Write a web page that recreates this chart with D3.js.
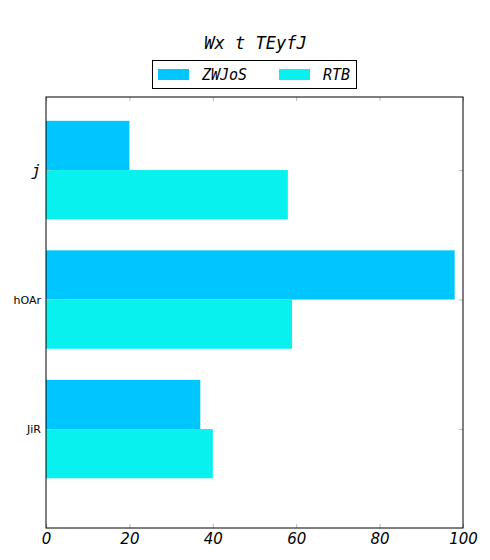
<!DOCTYPE html>
<html><head><meta charset="utf-8">
<script src="https://cdn.jsdelivr.net/npm/d3@7"></script>
<style>body{margin:0;background:#fff}</style>
</head><body>
<script>
const categories = ["JiR", "hOAr", "j"];
const seriesNames = ["ZWJoS", "RTB"];
const zwjos = [37, 98, 20];
const rtb = [40, 59, 58];
const xTicks = [0, 20, 40, 60, 80, 100];
const colors = ["#00c6ff", "#09f1ee"];

const W = 490, H = 560;
const svg = d3.select("body").append("svg").attr("width", W).attr("height", H);
const L = 46, R = 463, T = 97, B = 528;
const x = d3.scaleLinear().domain([0, 100]).range([L, R]);
const y = d3.scaleLinear().domain([-0.764, 2.564]).range([B, T]);
const bh = 0.38;
const series = [zwjos, rtb];

series.forEach((vals, si) => {
  svg.append("g").selectAll("rect").data(vals).join("rect")
    .attr("x", x(0))
    .attr("y", (d, i) => si === 0 ? y(i + bh) : y(i))
    .attr("width", d => x(d) - x(0))
    .attr("height", y(0) - y(bh))
    .attr("fill", colors[si]);
});

// ticks (inward, gray, both sides)
const tickCol = "#bbbbbb";
const xAxisB = d3.axisBottom(x).tickValues(xTicks).tickSize(-4).tickFormat(d => d);
const gxb = svg.append("g").attr("transform", `translate(0,${B})`).call(xAxisB);
gxb.select(".domain").remove();
gxb.selectAll(".tick line").attr("stroke", tickCol);
gxb.selectAll(".tick text").attr("dy", 0).attr("y", 16)
  .style("font-family", "DejaVu Sans").style("font-style", "italic").style("font-size", "15px").attr("fill", "#000");
const gxt = svg.append("g").attr("transform", `translate(0,${T})`).call(d3.axisTop(x).tickValues(xTicks).tickSize(-4).tickFormat(""));
gxt.select(".domain").remove();
gxt.selectAll(".tick line").attr("stroke", tickCol);

const yAxisL = d3.axisLeft(y).tickValues([0, 1, 2]).tickSize(-4).tickFormat(i => categories[i]);
const gyl = svg.append("g").attr("transform", `translate(${L},0)`).call(yAxisL);
gyl.select(".domain").remove();
gyl.selectAll(".tick line").attr("stroke", tickCol);
gyl.selectAll(".tick text").attr("x", -5).attr("fill", "#000")
  .style("font-family", "DejaVu Sans").style("font-size", "11px");
gyl.selectAll(".tick text").filter(i => i === 2)
  .style("font-family", "DejaVu Sans Mono").style("font-style", "italic").style("font-size", "16px");
const gyr = svg.append("g").attr("transform", `translate(${R},0)`).call(d3.axisRight(y).tickValues([0, 1, 2]).tickSize(-4).tickFormat(""));
gyr.select(".domain").remove();
gyr.selectAll(".tick line").attr("stroke", tickCol);

svg.append("rect").attr("x", L).attr("y", T).attr("width", R - L).attr("height", B - T)
  .attr("fill", "none").attr("stroke", "#000").attr("stroke-width", 1);

// title
svg.append("text").attr("x", (L + R) / 2 + 1).attr("y", 49).attr("text-anchor", "middle")
  .style("font-family", "DejaVu Sans Mono").style("font-style", "italic").style("font-size", "17px")
  .text("Wx t TEyfJ");

// legend
const lg = svg.append("g");
lg.append("rect").attr("x", 152.5).attr("y", 60.5).attr("width", 204).attr("height", 28)
  .attr("fill", "#fff").attr("stroke", "#000");
const legX = [158, 279];
seriesNames.forEach((n, i) => {
  lg.append("rect").attr("x", legX[i]).attr("y", 69).attr("width", 31).attr("height", 11).attr("fill", colors[i]);
  lg.append("text").attr("x", legX[i] + 44).attr("y", 80)
    .style("font-family", "DejaVu Sans Mono").style("font-style", "italic").style("font-size", "15px")
    .text(n);
});
</script>
</body></html>
